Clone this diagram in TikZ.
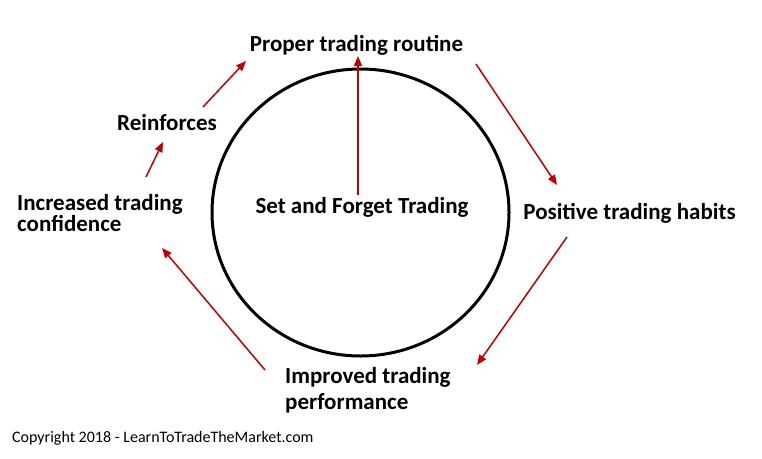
\documentclass[tikz,border=0pt]{standalone}
\usepackage{fontspec}
\setmainfont{Carlito}
\usetikzlibrary{arrows.meta, shapes.geometric}
\definecolor{loopRed}{HTML}{C00000}
\definecolor{loopInk}{HTML}{000000}

\begin{document}
\begin{tikzpicture}[x=1pt, y=-1pt,
  stage/.style={font=\fontsize{23}{21}\selectfont\bfseries, text=loopInk, inner sep=0pt, align=left},
  arr/.style={-{Triangle[length=10pt, width=8pt]}, line width=1.5pt, loopRed}]
  \useasboundingbox (0,0) rectangle (762,458);

  \node[draw=loopInk, ellipse, line width=3pt, minimum width=297pt, minimum height=287pt] (hub) at (360.5,212.5) {};
  \node[stage] (hubtext) at (362,207) {Set and Forget Trading};

  \node[stage] (routine) at (356.5,45) {Proper trading routine};
  \node[stage] (habits) at (629.5,213) {Positive trading habits};
  \node[stage, anchor=west, font=\fontsize{23}{26}\selectfont\bfseries] (perform) at (285,390) {Improved trading\\performance};
  \node[stage, anchor=west] (confid) at (17,213.5) {Increased trading\\confidence};
  \node[stage] (reinf) at (167,123) {Reinforces};

  \node[anchor=west, inner sep=0pt, font=\fontsize{16}{18}\selectfont] (copy) at (12,438) {Copyright 2018 - LearnToTradeTheMarket.com};

  % arrow ends
  \coordinate (hub-out) at (358,195);
  \coordinate (routine-in) at (358,56);
  \coordinate (routine-out) at (476,64);
  \coordinate (habits-in) at (557,185);
  \coordinate (habits-out) at (567,237);
  \coordinate (perform-in) at (477,365);
  \coordinate (perform-out) at (265,370);
  \coordinate (confid-in) at (162,248);
  \coordinate (confid-out) at (146,177);
  \coordinate (reinf-in) at (163,142);
  \coordinate (reinf-out) at (203,107);
  \coordinate (routine-in2) at (246,61);

  \draw[arr] (hub-out) -- (routine-in);
  \draw[arr] (routine-out) -- (habits-in);
  \draw[arr] (habits-out) -- (perform-in);
  \draw[arr] (perform-out) -- (confid-in);
  \draw[arr] (confid-out) -- (reinf-in);
  \draw[arr] (reinf-out) -- (routine-in2);
\end{tikzpicture}
\end{document}
